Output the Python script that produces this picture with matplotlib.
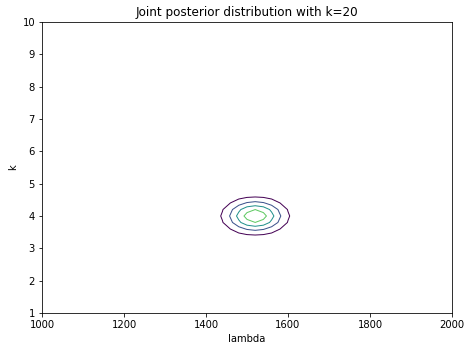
import numpy as np
import matplotlib
matplotlib.use("Agg")
import matplotlib.pyplot as plt

# Posterior summary
lambda_center = 1520.0
k_center = 4.0
lambda_sigma = 47.0
k_sigma = 0.33
lambda_grid_range = [1000, 2000]
k_grid_range = [1, 10]
levels = [0.208, 0.417, 0.625, 0.833]
level_colors = ["#440154", "#3b528b", "#21918c", "#5ec962"]
x_ticks = [1000, 1200, 1400, 1600, 1800, 2000]
y_ticks = [1, 2, 3, 4, 5, 6, 7, 8, 9, 10]

lam = np.linspace(lambda_grid_range[0], lambda_grid_range[1], 51)
ks = np.linspace(k_grid_range[0], k_grid_range[1], 46)
L, K = np.meshgrid(lam, ks)
Z = np.exp(-0.5 * (((L - lambda_center) / lambda_sigma) ** 2 + ((K - k_center) / k_sigma) ** 2))

fig = plt.figure(figsize=(472 / 72, 352 / 72), dpi=72)
ax = fig.add_axes([42 / 472, 1 - 313 / 352, 410 / 472, 291 / 352])
ax.contour(L, K, Z, levels=levels, colors=level_colors, linewidths=1.0)
ax.set_xlim(1000, 2000)
ax.set_ylim(1, 10)
ax.set_xticks(x_ticks)
ax.set_yticks(y_ticks)
ax.set_xlabel("lambda")
ax.set_ylabel("k")
ax.set_title("Joint posterior distribution with k=20")
fig.savefig("out.png", dpi=72)
